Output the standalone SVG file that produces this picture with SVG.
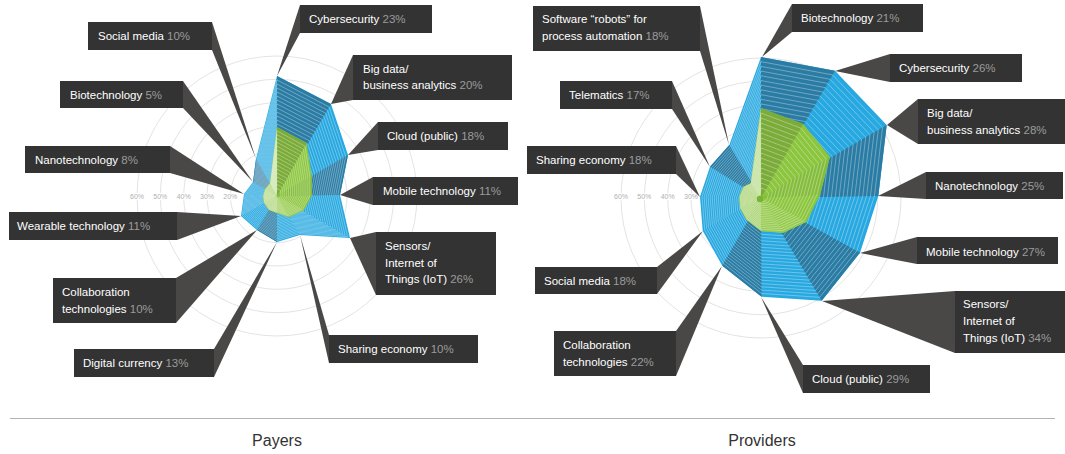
<svg xmlns="http://www.w3.org/2000/svg" width="1065" height="454" viewBox="0 0 1065 454">
<style>
.ci{fill:none;stroke:#dcdcdc;stroke-width:.8}
.cl{font-family:"Liberation Sans",Arial,sans-serif;font-size:7px;fill:#b0b0b0;text-anchor:middle;stroke:#fff;stroke-width:2.5;paint-order:stroke}
.bl{fill:#27a8e0}
.bd{fill:#2a7ca4}
.g1{fill:#8cc63f}
.g0{fill:#7bab39}
.g2{fill:#84bd3c}
.g4{fill:#95ca4c}
.gL{fill:#acd477}
.st{fill:none;stroke:#fff;stroke-opacity:.5;stroke-width:.65}
.w{fill:#4a4846}
.b{fill:#333}
.t{font-family:"Liberation Sans",Arial,sans-serif;font-size:11.5px;fill:#fff}
.p{fill:#9b9b9b}
.h{font-family:"Liberation Sans",Arial,sans-serif;font-size:16px;fill:#333;text-anchor:middle}
</style>
<defs>
<polygon id="LB" vector-effect="non-scaling-stroke" points="0,-120 54,-92 71,-41 63,-1 73,42 23,39 0,46 -20,34 -36,20 -33,-2 -24,-14 -21,-37"/>
<polygon id="LG" vector-effect="non-scaling-stroke" points="0,-69 29.7,-52.7 34.7,-20 34.7,0 27,14 12,21 0,17 -8,14 -13,7 -14,0 -12,-7 -7,-13"/>
<polygon id="RB" vector-effect="non-scaling-stroke" points="0,-141 74,-127.3 125.7,-73 117.3,-2 99,54.7 60.7,102.7 0.5,98.7 -38.7,67.7 -58.3,32.7 -61,-1.3 -51,-31.3 -31.7,-53"/>
<polygon id="RG" vector-effect="non-scaling-stroke" points="0,-90 42.3,-74 69,-41.3 59,-3 45.7,23.7 22.3,34.7 0,33 -14.3,22 -21,10.3 -21.7,-1.3 -17.7,-11.3 -10.3,-14.7"/>
</defs>

<g id="payers-chart" transform="translate(277,196)">
<g id="payers-grid">
<circle class="ci" r="23.3"/><circle class="ci" r="46.7"/><circle class="ci" r="70"/><circle class="ci" r="93.3"/><circle class="ci" r="116.7"/><circle class="ci" r="140"/>
<text class="cl" x="-140" y="2.5">60%</text><text class="cl" x="-116.7" y="2.5">50%</text><text class="cl" x="-93.3" y="2.5">40%</text><text class="cl" x="-70" y="2.5">30%</text><text class="cl" x="-46.7" y="2.5">20%</text>
</g>
<g id="payers-blue">
<use href="#LB" class="bl"/>
<polygon class="bd" points="0,0 0,-120 54,-92"/>
<polygon class="bd" points="0,0 71,-41 63,-1"/>
<polygon class="bd" points="0,0 0,46 -20,34"/>
<polygon class="bd" points="0,0 -24,-14 -21,-37"/>
<g class="st">
<use href="#LB" transform="scale(.167)"/><use href="#LB" transform="scale(.2)"/><use href="#LB" transform="scale(.233)"/><use href="#LB" transform="scale(.267)"/><use href="#LB" transform="scale(.3)"/><use href="#LB" transform="scale(.333)"/><use href="#LB" transform="scale(.367)"/><use href="#LB" transform="scale(.4)"/><use href="#LB" transform="scale(.433)"/><use href="#LB" transform="scale(.467)"/><use href="#LB" transform="scale(.5)"/><use href="#LB" transform="scale(.533)"/><use href="#LB" transform="scale(.567)"/><use href="#LB" transform="scale(.6)"/><use href="#LB" transform="scale(.633)"/><use href="#LB" transform="scale(.667)"/><use href="#LB" transform="scale(.7)"/><use href="#LB" transform="scale(.733)"/><use href="#LB" transform="scale(.767)"/><use href="#LB" transform="scale(.8)"/><use href="#LB" transform="scale(.833)"/><use href="#LB" transform="scale(.867)"/><use href="#LB" transform="scale(.9)"/><use href="#LB" transform="scale(.933)"/><use href="#LB" transform="scale(.967)"/>
</g>
</g>
<g id="payers-green">
<use href="#LG" class="g1"/>
<polygon class="g0" points="0,0 0,-69 29.7,-52.7"/>
<polygon class="g2" points="0,0 34.7,-20 34.7,0"/>
<polygon class="g4" points="0,0 27,14 12,21 0,17"/>
<polygon class="gL" points="0,0 0,17 -8,14 -13,7 -14,0 -12,-7 -7,-13 0,-69"/>
<g class="st">
<use href="#LG" transform="scale(.111)"/><use href="#LG" transform="scale(.167)"/><use href="#LG" transform="scale(.222)"/><use href="#LG" transform="scale(.278)"/><use href="#LG" transform="scale(.333)"/><use href="#LG" transform="scale(.389)"/><use href="#LG" transform="scale(.444)"/><use href="#LG" transform="scale(.5)"/><use href="#LG" transform="scale(.556)"/><use href="#LG" transform="scale(.611)"/><use href="#LG" transform="scale(.667)"/><use href="#LG" transform="scale(.722)"/><use href="#LG" transform="scale(.778)"/><use href="#LG" transform="scale(.833)"/><use href="#LG" transform="scale(.889)"/><use href="#LG" transform="scale(.944)"/>
</g>
</g>
</g>

<g id="providers-chart" transform="translate(761,198)">
<g id="providers-grid">
<circle class="ci" r="23.3"/><circle class="ci" r="46.7"/><circle class="ci" r="70"/><circle class="ci" r="93.3"/><circle class="ci" r="116.7"/><circle class="ci" r="140"/>
<text class="cl" x="-140" y="0.5">60%</text><text class="cl" x="-116.7" y="0.5">50%</text><text class="cl" x="-93.3" y="0.5">40%</text><text class="cl" x="-70" y="0.5">30%</text>
</g>
<g id="providers-blue">
<use href="#RB" class="bl"/>
<polygon class="bd" points="0,0 0,-141 74,-127.3"/>
<polygon class="bd" points="0,0 125.7,-73 117.3,-2"/>
<polygon class="bd" points="0,0 99,54.7 60.7,102.7"/>
<polygon class="bd" points="0,0 0.5,98.7 -38.7,67.7"/>
<polygon class="bd" points="0,0 -51,-31.3 -31.7,-53"/>
<g class="st">
<use href="#RB" transform="scale(.167)"/><use href="#RB" transform="scale(.2)"/><use href="#RB" transform="scale(.233)"/><use href="#RB" transform="scale(.267)"/><use href="#RB" transform="scale(.3)"/><use href="#RB" transform="scale(.333)"/><use href="#RB" transform="scale(.367)"/><use href="#RB" transform="scale(.4)"/><use href="#RB" transform="scale(.433)"/><use href="#RB" transform="scale(.467)"/><use href="#RB" transform="scale(.5)"/><use href="#RB" transform="scale(.533)"/><use href="#RB" transform="scale(.567)"/><use href="#RB" transform="scale(.6)"/><use href="#RB" transform="scale(.633)"/><use href="#RB" transform="scale(.667)"/><use href="#RB" transform="scale(.7)"/><use href="#RB" transform="scale(.733)"/><use href="#RB" transform="scale(.767)"/><use href="#RB" transform="scale(.8)"/><use href="#RB" transform="scale(.833)"/><use href="#RB" transform="scale(.867)"/><use href="#RB" transform="scale(.9)"/><use href="#RB" transform="scale(.933)"/><use href="#RB" transform="scale(.967)"/>
</g>
</g>
<g id="providers-green">
<use href="#RG" class="g1"/>
<polygon class="g0" points="0,0 0,-90 42.3,-74"/>
<polygon class="g2" points="0,0 69,-41.3 59,-3"/>
<polygon class="g4" points="0,0 45.7,23.7 22.3,34.7 0,33"/>
<polygon class="gL" points="0,0 0,33 -14.3,22 -21,10.3 -21.7,-1.3 -17.7,-11.3 -10.3,-14.7 0,-90"/>
<g class="st">
<use href="#RG" transform="scale(.111)"/><use href="#RG" transform="scale(.167)"/><use href="#RG" transform="scale(.222)"/><use href="#RG" transform="scale(.278)"/><use href="#RG" transform="scale(.333)"/><use href="#RG" transform="scale(.389)"/><use href="#RG" transform="scale(.444)"/><use href="#RG" transform="scale(.5)"/><use href="#RG" transform="scale(.556)"/><use href="#RG" transform="scale(.611)"/><use href="#RG" transform="scale(.667)"/><use href="#RG" transform="scale(.722)"/><use href="#RG" transform="scale(.778)"/><use href="#RG" transform="scale(.833)"/><use href="#RG" transform="scale(.889)"/><use href="#RG" transform="scale(.944)"/>
</g>
<circle r="3.2" fill="#78b335" cx="-1" cy="1"/>
</g>
</g>

<g id="connectors">
<polygon class="w" points="212,22 212,50 256,159"/>
<polygon class="w" points="300,5 300,33 277,76"/>
<polygon class="w" points="183,81 183,108 253,182"/>
<polygon class="w" points="353,55 353,100 331,104"/>
<polygon class="w" points="378,122 378,150 348,155"/>
<polygon class="w" points="170,146 170,173 244,194"/>
<polygon class="w" points="373,177 373,205 340,195"/>
<polygon class="w" points="177,212 177,240 241,216"/>
<polygon class="w" points="376,232 376,295 350,238"/>
<polygon class="w" points="176,278 176,323 257,230"/>
<polygon class="w" points="329,335 329,363 300,235"/>
<polygon class="w" points="214,349 214,377 277,242"/>
<polygon class="w" points="700,6 700,51 729,145"/>
<polygon class="w" points="792,4 792,32 762,57"/>
<polygon class="w" points="672,81 672,109 710,167"/>
<polygon class="w" points="890,54 890,82 835,71"/>
<polygon class="w" points="918,99 918,144 887,125"/>
<polygon class="w" points="676,146 676,174 700,197"/>
<polygon class="w" points="926,172 926,199 878,196"/>
<polygon class="w" points="917,237 917,264 860,253"/>
<polygon class="w" points="657,267 657,294 703,231"/>
<polygon class="w" points="955,291 955,353 822,301"/>
<polygon class="w" points="676,331 676,376 722,266"/>
<polygon class="w" points="803,365 803,393 761,297"/>
</g>

<g id="p-social"><rect class="b" x="88" y="22" width="124" height="28"/><text class="t" x="98" y="40">Social media <tspan class="p">10%</tspan></text></g>
<g id="p-cyber"><rect class="b" x="300" y="5" width="132" height="28"/><text class="t" x="309" y="23">Cybersecurity <tspan class="p">23%</tspan></text></g>
<g id="p-bio"><rect class="b" x="60" y="81" width="123" height="27"/><text class="t" x="70" y="99">Biotechnology <tspan class="p">5%</tspan></text></g>
<g id="p-bigdata"><rect class="b" x="353" y="55" width="159" height="45"/><text class="t" x="363" y="72.5">Big data/</text><text class="t" x="363" y="89">business analytics <tspan class="p">20%</tspan></text></g>
<g id="p-cloud"><rect class="b" x="378" y="122" width="130" height="28"/><text class="t" x="387" y="140">Cloud (public) <tspan class="p">18%</tspan></text></g>
<g id="p-nano"><rect class="b" x="25" y="146" width="145" height="27"/><text class="t" x="35" y="164">Nanotechnology <tspan class="p">8%</tspan></text></g>
<g id="p-mobile"><rect class="b" x="373" y="177" width="145" height="28"/><text class="t" x="383" y="195">Mobile technology <tspan class="p">11%</tspan></text></g>
<g id="p-wearable"><rect class="b" x="9" y="212" width="168" height="28"/><text class="t" x="17" y="230">Wearable technology <tspan class="p">11%</tspan></text></g>
<g id="p-sensors"><rect class="b" x="376" y="232" width="120" height="63"/><text class="t" x="385" y="250">Sensors/</text><text class="t" x="385" y="266.7">Internet of</text><text class="t" x="385" y="283.3">Things (IoT) <tspan class="p">26%</tspan></text></g>
<g id="p-collab"><rect class="b" x="53" y="278" width="123" height="45"/><text class="t" x="62" y="296">Collaboration</text><text class="t" x="62" y="312.5">technologies <tspan class="p">10%</tspan></text></g>
<g id="p-sharing"><rect class="b" x="329" y="335" width="149" height="28"/><text class="t" x="338" y="353">Sharing economy <tspan class="p">10%</tspan></text></g>
<g id="p-digital"><rect class="b" x="74" y="349" width="140" height="28"/><text class="t" x="83" y="367">Digital currency <tspan class="p">13%</tspan></text></g>

<g id="r-software"><rect class="b" x="533" y="6" width="167" height="45"/><text class="t" x="542" y="23">Software “robots” for</text><text class="t" x="542" y="40">process automation <tspan class="p">18%</tspan></text></g>
<g id="r-bio"><rect class="b" x="792" y="4" width="131" height="28"/><text class="t" x="801" y="22">Biotechnology <tspan class="p">21%</tspan></text></g>
<g id="r-telematics"><rect class="b" x="560" y="81" width="112" height="28"/><text class="t" x="569" y="99">Telematics <tspan class="p">17%</tspan></text></g>
<g id="r-cyber"><rect class="b" x="890" y="54" width="132" height="28"/><text class="t" x="899" y="72">Cybersecurity <tspan class="p">26%</tspan></text></g>
<g id="r-bigdata"><rect class="b" x="918" y="99" width="147" height="45"/><text class="t" x="927" y="117">Big data/</text><text class="t" x="927" y="133.5">business analytics <tspan class="p">28%</tspan></text></g>
<g id="r-sharing"><rect class="b" x="527" y="146" width="149" height="28"/><text class="t" x="536" y="164">Sharing economy <tspan class="p">18%</tspan></text></g>
<g id="r-nano"><rect class="b" x="926" y="172" width="137" height="27"/><text class="t" x="935" y="189.5">Nanotechnology <tspan class="p">25%</tspan></text></g>
<g id="r-mobile"><rect class="b" x="917" y="237" width="141" height="27"/><text class="t" x="926" y="255.5">Mobile technology <tspan class="p">27%</tspan></text></g>
<g id="r-social"><rect class="b" x="535" y="267" width="122" height="27"/><text class="t" x="544" y="285">Social media <tspan class="p">18%</tspan></text></g>
<g id="r-sensors"><rect class="b" x="955" y="291" width="110" height="62"/><text class="t" x="963" y="308">Sensors/</text><text class="t" x="963" y="325">Internet of</text><text class="t" x="963" y="342">Things (IoT) <tspan class="p">34%</tspan></text></g>
<g id="r-collab"><rect class="b" x="554" y="331" width="122" height="45"/><text class="t" x="563" y="349">Collaboration</text><text class="t" x="563" y="366">technologies <tspan class="p">22%</tspan></text></g>
<g id="r-cloud"><rect class="b" x="803" y="365" width="127" height="28"/><text class="t" x="812" y="383">Cloud (public) <tspan class="p">29%</tspan></text></g>

<g id="footer">
<line x1="10" y1="418.5" x2="1055" y2="418.5" stroke="#b3b3b3" stroke-width="1"/>
<text class="h" x="277" y="446">Payers</text>
<text class="h" x="762" y="446">Providers</text>
</g>
</svg>
